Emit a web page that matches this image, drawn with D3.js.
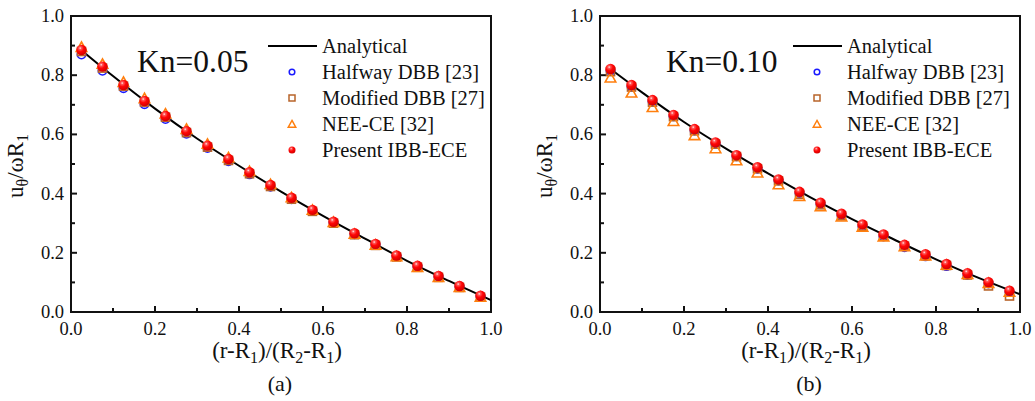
<!DOCTYPE html>
<html>
<head>
<meta charset="utf-8">
<script src="https://cdn.jsdelivr.net/npm/d3@7/dist/d3.min.js"></script>
<style>
  html, body { margin: 0; padding: 0; background: #fff; }
  svg { display: block; }
  text { font-family: "Liberation Serif", "Tinos", "DejaVu Serif", serif; fill: #111; }
</style>
</head>
<body>
<svg id="chart" width="1035" height="401"></svg>
<script>
// Radial positions sampled by the simulations
const xPoints = [0.025,0.075,0.125,0.175,0.225,0.275,0.325,0.375,0.425,0.475,
                 0.525,0.575,0.625,0.675,0.725,0.775,0.825,0.875,0.925,0.975];

// Kn = 0.05
const aLineX = [0.022,0.1,0.2,0.3,0.4,0.5,0.6,0.7,0.8,0.9,1.0];
const aLineY = [0.888,0.797,0.687,0.586,0.494,0.407,0.325,0.248,0.173,0.105,0.040];
const aHalfway  = [0.870,0.815,0.756,0.702,0.652,0.602,0.554,0.509,0.465,0.423,0.381,0.341,0.302,0.263,0.227,0.189,0.154,0.120,0.086,0.053];
const aModified = [0.880,0.824,0.763,0.709,0.658,0.606,0.557,0.512,0.467,0.424,0.381,0.340,0.300,0.261,0.225,0.186,0.151,0.117,0.083,0.050];
const aNEE      = [0.893,0.836,0.775,0.720,0.668,0.616,0.566,0.520,0.474,0.430,0.385,0.343,0.302,0.262,0.225,0.186,0.150,0.116,0.082,0.049];
const aPresent  = [0.885,0.829,0.767,0.713,0.662,0.611,0.562,0.517,0.472,0.429,0.386,0.345,0.305,0.266,0.230,0.191,0.156,0.122,0.088,0.055];

// Kn = 0.10
const bLineX = [0.025,0.1,0.2,0.3,0.4,0.5,0.6,0.7,0.8,0.9,1.0];
const bLineY = [0.821,0.742,0.642,0.552,0.468,0.388,0.314,0.245,0.178,0.116,0.060];
const bHalfway  = [0.815,0.761,0.711,0.661,0.613,0.568,0.526,0.484,0.444,0.402,0.365,0.327,0.289,0.255,0.219,0.188,0.155,0.125,0.096,0.068];
const bModified = [0.812,0.760,0.709,0.660,0.612,0.567,0.525,0.484,0.443,0.398,0.362,0.325,0.290,0.256,0.222,0.190,0.157,0.125,0.088,0.054];
const bNEE      = [0.790,0.739,0.690,0.643,0.595,0.551,0.510,0.469,0.429,0.390,0.355,0.320,0.286,0.253,0.220,0.189,0.157,0.126,0.096,0.066];
const bPresent  = [0.821,0.767,0.716,0.666,0.618,0.573,0.530,0.489,0.448,0.406,0.369,0.332,0.296,0.262,0.227,0.195,0.162,0.131,0.101,0.072];

const xTicks = [0, 0.2, 0.4, 0.6, 0.8, 1.0];
const yTicks = [0, 0.2, 0.4, 0.6, 0.8, 1.0];
const legendLabels = ["Analytical", "Halfway DBB [23]", "Modified DBB [27]", "NEE-CE [32]", "Present IBB-ECE"];

const colors = { halfway: "#1a1aff", modified: "#b8642a", nee: "#ff7f0e" };
const serif = '"Liberation Serif", "Tinos", "DejaVu Serif", serif';

const svg = d3.select("#chart").attr("font-family", serif);

// Shaded sphere for the present scheme
const defs = svg.append("defs");
const grad = defs.append("radialGradient").attr("id", "sphere")
  .attr("cx", "38%").attr("cy", "32%").attr("r", "68%");
grad.append("stop").attr("offset", "0%").attr("stop-color", "#fff0f0");
grad.append("stop").attr("offset", "18%").attr("stop-color", "#ff5a5a");
grad.append("stop").attr("offset", "50%").attr("stop-color", "#ff0606");
grad.append("stop").attr("offset", "100%").attr("stop-color", "#d40000");

const panels = [
  { left: 71, label: "(a)", kn: "Kn=0.05", knX: 137, lineX: aLineX, lineY: aLineY,
    halfway: aHalfway, modified: aModified, nee: aNEE, present: aPresent, legX: 268 },
  { left: 600, label: "(b)", kn: "Kn=0.10", knX: 666, lineX: bLineX, lineY: bLineY,
    halfway: bHalfway, modified: bModified, nee: bNEE, present: bPresent, legX: 793 }
];

const plotTop = 16, plotBottom = 312, plotW = 420;

function triPath(cx, cy, s) {
  const h = s * 0.9;
  return `M${cx},${cy - h * 0.6}L${cx + s / 2},${cy + h * 0.4}L${cx - s / 2},${cy + h * 0.4}Z`;
}

panels.forEach(p => {
  const x = d3.scaleLinear().domain([0, 1]).range([p.left, p.left + plotW]);
  const y = d3.scaleLinear().domain([0, 1]).range([plotBottom, plotTop]);
  const g = svg.append("g");

  // Frame
  g.append("rect").attr("x", x(0)).attr("y", y(1)).attr("width", plotW).attr("height", plotBottom - plotTop)
    .attr("fill", "none").attr("stroke", "#111").attr("stroke-width", 2);

  // Inward ticks: major and minor
  const minor = [0.1, 0.3, 0.5, 0.7, 0.9];
  xTicks.forEach(t => g.append("line").attr("x1", x(t)).attr("x2", x(t))
    .attr("y1", plotBottom).attr("y2", plotBottom - 6).attr("stroke", "#111").attr("stroke-width", 2));
  minor.forEach(t => g.append("line").attr("x1", x(t)).attr("x2", x(t))
    .attr("y1", plotBottom).attr("y2", plotBottom - 4).attr("stroke", "#111").attr("stroke-width", 2));
  yTicks.forEach(t => g.append("line").attr("x1", x(0)).attr("x2", x(0) + 6)
    .attr("y1", y(t)).attr("y2", y(t)).attr("stroke", "#111").attr("stroke-width", 2));
  minor.forEach(t => g.append("line").attr("x1", x(0)).attr("x2", x(0) + 4)
    .attr("y1", y(t)).attr("y2", y(t)).attr("stroke", "#111").attr("stroke-width", 2));

  // Tick labels
  g.selectAll(".xt").data(xTicks).enter().append("text")
    .attr("x", d => x(d)).attr("y", plotBottom + 23).attr("text-anchor", "middle")
    .attr("font-size", 18.5).text(d => d3.format(".1f")(d));
  g.selectAll(".yt").data(yTicks).enter().append("text")
    .attr("x", x(0) - 7).attr("y", d => y(d) + 6).attr("text-anchor", "end")
    .attr("font-size", 18.5).text(d => d3.format(".1f")(d));

  // Axis titles
  const xt = g.append("text").attr("x", x(0.5) - 4).attr("y", 358).attr("text-anchor", "middle").attr("font-size", 23);
  const parts = [["(r-R", 0], ["1", 1], [")/(R", 0], ["2", 1], ["-R", 0], ["1", 1], [")", 0]];
  let prevSub = false;
  parts.forEach(([s, sub]) => {
    const ts = xt.append("tspan").text(s);
    if (sub) ts.attr("font-size", 16).attr("dy", 5);
    else if (prevSub) ts.attr("dy", -5);
    prevSub = !!sub;
  });

  const yt = g.append("text").attr("transform", `translate(${p.left - 48},${y(0.5) + 2}) rotate(-90)`)
    .attr("text-anchor", "middle").attr("font-size", 23);
  yt.append("tspan").text("u");
  yt.append("tspan").text("θ").attr("font-size", 16).attr("dy", 5);
  yt.append("tspan").text("/ωR").attr("dy", -5);
  yt.append("tspan").text("1").attr("font-size", 16).attr("dy", 5);

  g.append("text").attr("x", x(0.5) - 1).attr("y", 391).attr("text-anchor", "middle")
    .attr("font-size", 22).text(p.label);

  // Knudsen number annotation
  g.append("text").attr("x", p.knX).attr("y", 72).attr("font-size", 31.5).text(p.kn);

  // Analytical solution
  const line = d3.line().x(d => x(d[0])).y(d => y(d[1])).curve(d3.curveMonotoneX);
  g.append("path").datum(d3.zip(p.lineX, p.lineY)).attr("d", line)
    .attr("fill", "none").attr("stroke", "#000").attr("stroke-width", 2);

  // Halfway DBB: open circles
  g.selectAll(".hw").data(d3.zip(xPoints, p.halfway)).enter().append("circle")
    .attr("cx", d => x(d[0])).attr("cy", d => y(d[1])).attr("r", 4.2)
    .attr("fill", "none").attr("stroke", colors.halfway).attr("stroke-width", 1.6);

  // Modified DBB: open squares
  g.selectAll(".md").data(d3.zip(xPoints, p.modified)).enter().append("rect")
    .attr("x", d => x(d[0]) - 4).attr("y", d => y(d[1]) - 4).attr("width", 8).attr("height", 8)
    .attr("fill", "none").attr("stroke", colors.modified).attr("stroke-width", 1.6);

  // NEE-CE: open triangles
  g.selectAll(".ne").data(d3.zip(xPoints, p.nee)).enter().append("path")
    .attr("d", d => triPath(x(d[0]), y(d[1]), 10.5))
    .attr("fill", "none").attr("stroke", colors.nee).attr("stroke-width", 1.6);

  // Present IBB-ECE: shaded spheres
  g.selectAll(".pr").data(d3.zip(xPoints, p.present)).enter().append("circle")
    .attr("cx", d => x(d[0])).attr("cy", d => y(d[1])).attr("r", 5.2)
    .attr("fill", "url(#sphere)");

  // Legend
  const rows = [46, 72, 98, 124, 150];
  const lg = g.append("g");
  lg.append("line").attr("x1", p.legX).attr("x2", p.legX + 49).attr("y1", rows[0]).attr("y2", rows[0])
    .attr("stroke", "#000").attr("stroke-width", 2);
  const mx = p.legX + 24;
  lg.append("circle").attr("cx", mx).attr("cy", rows[1]).attr("r", 2.8)
    .attr("fill", "none").attr("stroke", colors.halfway).attr("stroke-width", 1.5);
  lg.append("rect").attr("x", mx - 3).attr("y", rows[2] - 3).attr("width", 6).attr("height", 6)
    .attr("fill", "none").attr("stroke", colors.modified).attr("stroke-width", 1.5);
  lg.append("path").attr("d", triPath(mx, rows[3] + 0.5, 7.5))
    .attr("fill", "none").attr("stroke", colors.nee).attr("stroke-width", 1.5);
  lg.append("circle").attr("cx", mx).attr("cy", rows[4]).attr("r", 3.5).attr("fill", "url(#sphere)");
  legendLabels.forEach((t, i) => {
    lg.append("text").attr("x", p.legX + 54).attr("y", rows[i] + 7).attr("font-size", 20.5).text(t);
  });
});
</script>
</body>
</html>
